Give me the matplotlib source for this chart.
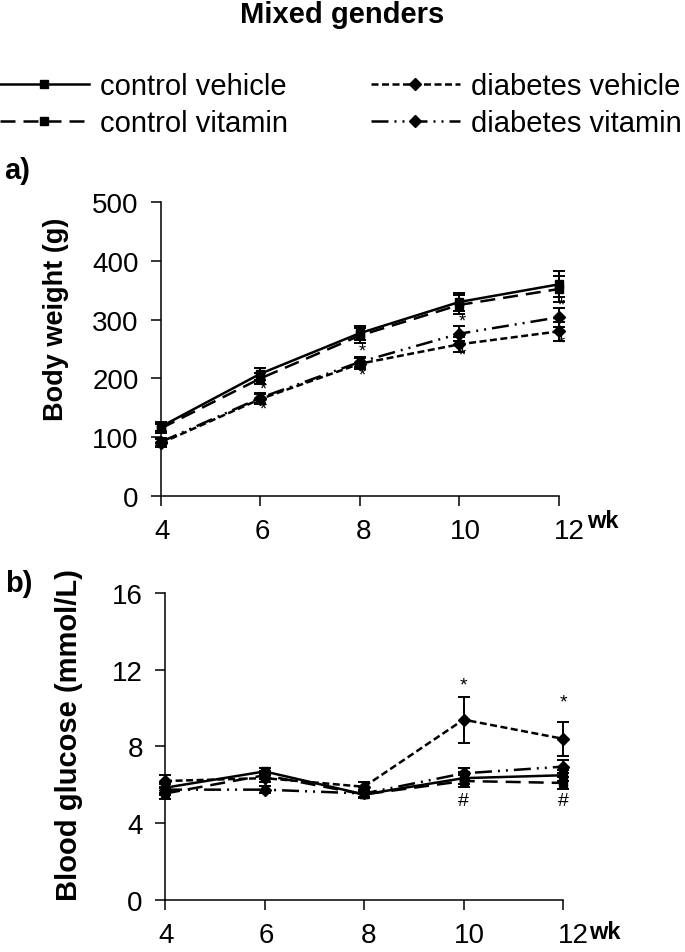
import matplotlib
matplotlib.use('Agg')
import matplotlib.pyplot as plt
import matplotlib.transforms as mtransforms
import numpy as np

plt.rcParams['font.family'] = ['Liberation Sans', 'DejaVu Sans']

weeks = [4, 6, 8, 10, 12]
groups = ['control vehicle', 'control vitamin', 'diabetes vehicle', 'diabetes vitamin']

# body weight (g), mean and SEM
bw_mean = {
    'control vehicle':  [118, 208, 277, 330, 360],
    'control vitamin':  [115, 200, 273, 325, 352],
    'diabetes vehicle': [90, 165, 225, 258, 280],
    'diabetes vitamin': [92, 167, 228, 276, 304],
}
bw_err = {
    'control vehicle':  [8, 10, 12, 16, 22],
    'control vitamin':  [8, 10, 12, 16, 22],
    'diabetes vehicle': [7, 9, 9, 13, 16],
    'diabetes vitamin': [7, 9, 9, 13, 16],
}

# blood glucose (mmol/L), mean and SEM
bg_mean = {
    'control vehicle':  [5.85, 6.7, 5.5, 6.35, 6.5],
    'control vitamin':  [5.55, 6.5, 5.5, 6.2, 6.1],
    'diabetes vehicle': [6.2, 6.35, 5.9, 9.4, 8.4],
    'diabetes vitamin': [5.75, 5.75, 5.55, 6.6, 6.95],
}
bg_err = {
    'control vehicle':  [0.3, 0.2, 0.2, 0.3, 0.3],
    'control vitamin':  [0.3, 0.2, 0.2, 0.3, 0.3],
    'diabetes vehicle': [0.3, 0.2, 0.25, 1.2, 0.88],
    'diabetes vitamin': [0.3, 0.2, 0.2, 0.3, 0.35],
}

# significance marks
bw_marks_x = [6, 6, 8, 8, 10, 10, 12, 12]
bw_marks_y = [182, 148, 246, 206, 297, 239, 324, 261]
bg_marks_x = [10, 12, 10, 12]
bg_marks_y = [11.2, 10.3, 5.2, 5.2]
bg_marks_s = ['*', '*', '#', '#']

# the original tick labels drift a little to the right (pixels)
xlabel_shift = [1, 2, 4, 6, 10]

styles = {
    'control vehicle':  dict(ls='-', marker='s'),
    'control vitamin':  dict(ls=(0, (6, 3.2)), marker='s'),
    'diabetes vehicle': dict(ls=(0, (2.8, 1.4)), marker='D'),
    'diabetes vitamin': dict(ls=(0, (6.8, 2.4, 0.8, 2.4, 0.8, 2.4)), marker='D'),
}

fig = plt.figure(figsize=(6.85, 9.53), dpi=100)
ax1 = fig.add_axes([0.235, 0.4785, 0.581, 0.3085])
ax2 = fig.add_axes([0.241, 0.0546, 0.581, 0.3221])


def draw(ax, means, errs):
    handles = []
    for g in groups:
        st = styles[g]
        c = ax.errorbar(weeks, means[g], yerr=errs[g], color='black', lw=1.8,
                        ls=st['ls'], marker=st['marker'], markersize=6,
                        capsize=4, elinewidth=1.4, capthick=1.4, clip_on=False)
        handles.append(c.lines[0])
    ax.set_xlim(4, 12)
    ax.set_xticks(weeks)
    for s in ['top', 'right']:
        ax.spines[s].set_visible(False)
    for s in ['left', 'bottom']:
        ax.spines[s].set_linewidth(1.1)
    ax.tick_params(direction='out', length=7, width=1.1, labelsize=20, pad=9)
    for lab, dx in zip(ax.get_xticklabels(), xlabel_shift):
        off = mtransforms.ScaledTranslation(dx / 100.0, 0, fig.dpi_scale_trans)
        lab.set_transform(lab.get_transform() + off)
    return handles


handles = draw(ax1, bw_mean, bw_err)
ax1.set_ylim(0, 500)
ax1.set_yticks([0, 100, 200, 300, 400, 500])
ax1.set_ylabel('Body weight (g)', fontsize=19.5, fontweight='bold')
ax1.yaxis.set_label_coords(-0.232, 0.605)
ax1.text(1.07, -0.082, 'wk', transform=ax1.transAxes, fontsize=17,
         fontweight='bold', va='center', ha='left')
for x, y in zip(bw_marks_x, bw_marks_y):
    ax1.text(x + 0.05, y, '*', fontsize=13, ha='center', va='center')

draw(ax2, bg_mean, bg_err)
ax2.set_ylim(0, 16)
ax2.set_yticks([0, 4, 8, 12, 16])
ax2.set_ylabel('Blood glucose (mmol/L)', fontsize=21, fontweight='bold')
ax2.yaxis.set_label_coords(-0.205, 0.54)
ax2.text(1.065, -0.104, 'wk', transform=ax2.transAxes, fontsize=17,
         fontweight='bold', va='center', ha='left')
for x, y, s in zip(bg_marks_x, bg_marks_y, bg_marks_s):
    ax2.text(x, y, s, fontsize=14, ha='center', va='center')

fig.text(0.5, 0.984, 'Mixed genders', fontsize=21, fontweight='bold',
         ha='center', va='center')
fig.text(0.006, 0.8206, 'a)', fontsize=21, fontweight='bold', va='center')
fig.text(0.008, 0.387, 'b)', fontsize=21, fontweight='bold', va='center')

fig.legend(handles, groups, ncol=2, loc='upper left', bbox_to_anchor=(0.0, 0.923),
           frameon=False, fontsize=21, handlelength=3.05, handletextpad=0.38,
           columnspacing=2.83, labelspacing=0.3, borderpad=0, borderaxespad=0)

fig.savefig('out.png', dpi=100)
